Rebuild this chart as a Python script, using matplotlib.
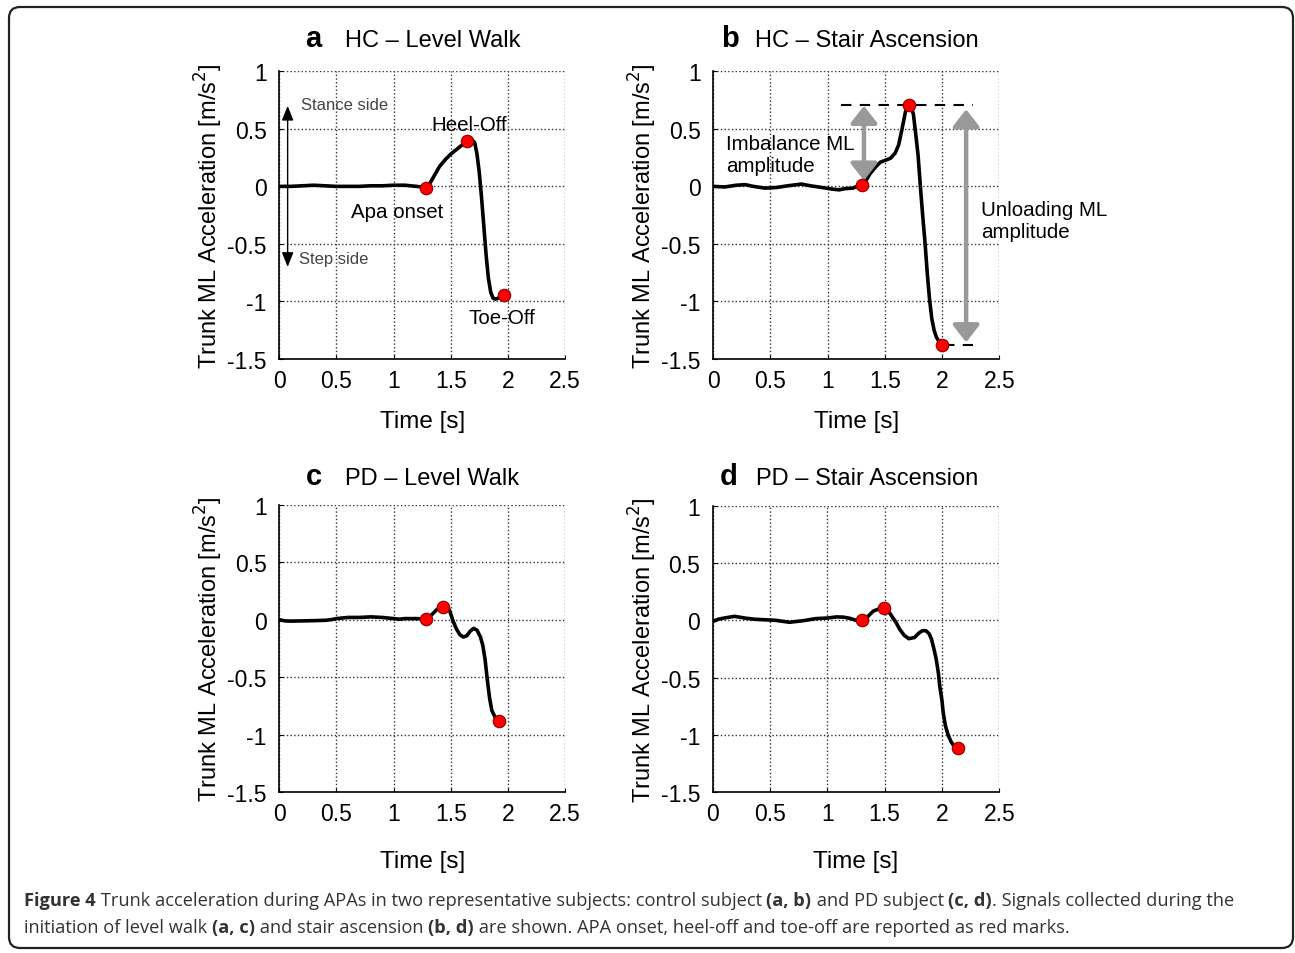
import matplotlib
matplotlib.use("Agg")
import matplotlib.pyplot as plt
from matplotlib.patches import FancyBboxPatch
from matplotlib.transforms import IdentityTransform

W, H = 1295, 954
plt.rcParams['font.family'] = ['Liberation Sans', 'DejaVu Sans']

# ---------------- data ----------------
a_t = [0.00, 0.10, 0.20, 0.30, 0.40, 0.50, 0.60, 0.70, 0.80, 0.90, 1.00, 1.10, 1.20, 1.28,
       1.32, 1.36, 1.40, 1.45, 1.50, 1.55, 1.60, 1.64, 1.68, 1.71, 1.73, 1.75, 1.77, 1.79,
       1.81, 1.83, 1.85, 1.87, 1.89, 1.92, 1.97]
a_y = [0.00, 0.00, 0.005, 0.01, 0.005, 0.00, 0.00, 0.00, 0.005, 0.005, 0.01, 0.01, 0.00, -0.01,
       0.03, 0.10, 0.17, 0.23, 0.28, 0.32, 0.36, 0.39, 0.41, 0.38, 0.28, 0.12, -0.10, -0.35,
       -0.60, -0.80, -0.92, -0.97, -0.98, -0.97, -0.94]
a_mt = [1.28, 1.64, 1.97]
a_my = [-0.01, 0.39, -0.94]

b_t = [0.00, 0.10, 0.20, 0.28, 0.35, 0.45, 0.55, 0.65, 0.77, 0.85, 0.95, 1.05, 1.10, 1.15, 1.22,
       1.30, 1.34, 1.37, 1.42, 1.46, 1.50, 1.55, 1.59, 1.62, 1.65, 1.68, 1.71, 1.73, 1.75, 1.77,
       1.79, 1.81, 1.83, 1.85, 1.87, 1.89, 1.91, 1.93, 1.95, 1.98, 2.00]
b_y = [0.00, -0.005, 0.01, 0.015, 0.00, -0.015, -0.01, 0.005, 0.02, 0.005, -0.01, -0.025, -0.03,
       -0.02, -0.015, 0.015, 0.06, 0.11, 0.17, 0.21, 0.225, 0.245, 0.29, 0.36, 0.50, 0.65, 0.71,
       0.70, 0.62, 0.45, 0.27, 0.00, -0.25, -0.48, -0.75, -0.98, -1.15, -1.25, -1.31, -1.36, -1.375]
b_mt = [1.30, 1.71, 2.00]
b_my = [0.015, 0.71, -1.375]

c_t = [0.00, 0.05, 0.10, 0.20, 0.30, 0.40, 0.45, 0.50, 0.60, 0.70, 0.80, 0.90, 1.00, 1.05, 1.10,
       1.20, 1.28, 1.33, 1.38, 1.43, 1.46, 1.49, 1.52, 1.55, 1.58, 1.61, 1.64, 1.67, 1.70, 1.73,
       1.76, 1.78, 1.80, 1.82, 1.84, 1.86, 1.89, 1.925]
c_y = [0.00, -0.01, -0.012, -0.01, -0.008, -0.005, 0.00, 0.01, 0.02, 0.02, 0.025, 0.02, 0.01,
       0.005, 0.01, 0.01, 0.005, 0.04, 0.09, 0.11, 0.12, 0.08, -0.01, -0.08, -0.13, -0.15, -0.14,
       -0.10, -0.075, -0.09, -0.15, -0.22, -0.34, -0.52, -0.68, -0.79, -0.85, -0.88]
c_mt = [1.28, 1.43, 1.925]
c_my = [0.005, 0.11, -0.88]

d_t = [0.00, 0.05, 0.10, 0.19, 0.28, 0.36, 0.45, 0.55, 0.67, 0.79, 0.90, 0.94, 1.00, 1.08, 1.14,
       1.20, 1.25, 1.305, 1.35, 1.40, 1.45, 1.49, 1.52, 1.55, 1.60, 1.63, 1.67, 1.71, 1.76, 1.80,
       1.83, 1.86, 1.89, 1.91, 1.93, 1.95, 1.97, 1.98, 2.00, 2.01, 2.03, 2.055, 2.08, 2.10, 2.14]
d_y = [-0.01, 0.01, 0.02, 0.035, 0.02, 0.01, 0.005, 0.00, -0.017, -0.003, 0.015, 0.017, 0.02,
       0.03, 0.028, 0.017, 0.00, -0.01, 0.03, 0.08, 0.10, 0.11, 0.09, 0.055, -0.02, -0.076, -0.13,
       -0.16, -0.15, -0.11, -0.09, -0.09, -0.12, -0.17, -0.25, -0.34, -0.47, -0.57, -0.70, -0.80,
       -0.92, -1.005, -1.06, -1.09, -1.115]
d_mt = [1.305, 1.49, 2.14]
d_my = [0.00, 0.11, -1.115]

xticks = [0, 0.5, 1, 1.5, 2, 2.5]
xticklabels = ['0', '0.5', '1', '1.5', '2', '2.5']
yticks = [-1.5, -1, -0.5, 0, 0.5, 1]
yticklabels = ['-1.5', '-1', '-0.5', '0', '0.5', '1']

panels = [
    ('a', 'HC – Level Walk', a_t, a_y, a_mt, a_my),
    ('b', 'HC – Stair Ascension', b_t, b_y, b_mt, b_my),
    ('c', 'PD – Level Walk', c_t, c_y, c_mt, c_my),
    ('d', 'PD – Stair Ascension', d_t, d_y, d_mt, d_my),
]

# ---------------- layout (pixels) ----------------
boxes = [(279.3, 565.0, 72.3, 360.0), (713.3, 999.3, 72.3, 360.0),
         (279.3, 565.0, 505.7, 793.3), (712.7, 999.3, 506.7, 793.3)]
letter_x = [313, 730, 313.5, 729]
title_x = [345, 755, 345, 756.5]
title_base = [47, 47, 485, 485]
ylab_x = [209, 643, 209, 643]
xlab_base = [428, 428, 868, 868]

fig = plt.figure(figsize=(W / 100, H / 100), dpi=100)

def fx(px):
    return px / W

def fy(py):
    return 1 - py / H

axes = []
for i, (letter, title, t, y, mt, my) in enumerate(panels):
    l, r, tp, bt = boxes[i]
    ax = fig.add_axes([fx(l), fy(bt), (r - l) / W, (bt - tp) / H])
    axes.append(ax)
    ax.plot(t, y, color='black', lw=2.6, zorder=3, solid_joinstyle='round')
    ax.plot(mt, my, 'o', ms=9, mfc='#ff0000', mec='#8b0000', mew=0.8, zorder=5)
    ax.set_xlim(0, 2.5)
    ax.set_ylim(-1.5, 1)
    ax.set_xticks(xticks)
    ax.set_xticklabels(xticklabels)
    ax.set_yticks(yticks)
    ax.set_yticklabels(yticklabels)
    ax.tick_params(direction='in', length=3, width=0.8, labelsize=16.5, pad=9,
                   colors='black')
    ax.tick_params(axis='x', pad=7)
    ax.grid(True, linestyle=':', color='#333333', lw=1.0)
    for s in ['top', 'right']:
        ax.spines[s].set_visible(False)
    for s in ['left', 'bottom']:
        ax.spines[s].set_linewidth(1.2)
    ax.set_axisbelow(True)
    fig.text(fx(letter_x[i]), fy(title_base[i]), letter, fontsize=21, fontweight='bold',
             ha='center', va='baseline')
    fig.text(fx(title_x[i]), fy(title_base[i]), title, fontsize=17, ha='left', va='baseline')
    fig.text(fx(ylab_x[i]), fy((tp + bt) / 2), 'Trunk ML Acceleration [m/s$^2$]', fontsize=17,
             rotation=90, ha='center', va='center')
    fig.text(fx((l + r) / 2), fy(xlab_base[i]), 'Time [s]', fontsize=17.5,
             ha='center', va='baseline')

# ---- panel a annotations ----
ax = axes[0]
ax.annotate('', xy=(0.073, 0.70), xytext=(0.073, -0.70),
            arrowprops=dict(arrowstyle='<|-|>,head_length=0.55,head_width=0.22',
                            color='black', lw=1.0, mutation_scale=16,
                            shrinkA=0, shrinkB=0), zorder=4)
ax.text(0.19, 0.71, 'Stance side', fontsize=12, color='#444444', ha='left', va='center')
ax.text(0.17, -0.63, 'Step side', fontsize=12, color='#444444', ha='left', va='center')
ax.text(1.66, 0.54, 'Heel-Off', fontsize=14.8, ha='center', va='center', zorder=6)
ax.text(1.03, -0.22, 'Apa onset', fontsize=14.8, ha='center', va='center', zorder=6)
ax.text(1.95, -1.14, 'Toe-Off', fontsize=14.8, ha='center', va='center', zorder=6)

# ---- panel b annotations ----
ax = axes[1]
ax.plot([1.12, 2.27], [0.71, 0.71], color='black', lw=1.5, ls=(0, (5, 4)), zorder=2)
ax.plot([2.02, 2.27], [-1.375, -1.375], color='black', lw=1.5, ls=(0, (5, 4)), zorder=2)
gray_arrow = dict(arrowstyle='<|-|>,head_length=0.45,head_width=0.35', color='#999999',
                  lw=3.2, mutation_scale=23, shrinkA=0, shrinkB=0)
ax.annotate('', xy=(1.317, 0.70), xytext=(1.317, 0.05), arrowprops=gray_arrow, zorder=4)
ax.annotate('', xy=(2.21, 0.67), xytext=(2.21, -1.355), arrowprops=gray_arrow, zorder=4)
ax.text(0.115, 0.28, 'Imbalance ML\namplitude', fontsize=14.8, ha='left', va='center',
        linespacing=1.2, zorder=6)
ax.text(2.34, -0.30, 'Unloading ML\namplitude', fontsize=14.8, ha='left', va='center',
        linespacing=1.2, clip_on=False, zorder=6)

# ---- border ----
border = FancyBboxPatch((9, 5), 1284, 941, boxstyle='round,pad=0,rounding_size=11',
                        transform=IdentityTransform(), fill=False, ec='#222222', lw=1.6)
fig.patches.append(border)

# ---- caption ----
cap_family = ['Open Sans', 'DejaVu Sans']
cap_size = 13.15
cap_color = '#333333'
line1 = [("Figure 4", 'bold'),
         (" Trunk acceleration during APAs in two representative subjects: control subject ", 'normal'),
         ("(a, b)", 'bold'), (" and PD subject ", 'normal'), ("(c, d)", 'bold'),
         (". Signals collected during the", 'normal')]
line2 = [("initiation of level walk ", 'normal'), ("(a, c)", 'bold'),
         (" and stair ascension ", 'normal'), ("(b, d)", 'bold'),
         (" are shown. APA onset, heel-off and toe-off are reported as red marks.", 'normal')]

fig.canvas.draw()
renderer = fig.canvas.get_renderer()

def measure(s, weight):
    t = fig.text(0, 0, "|" + s + "|", fontsize=cap_size, fontweight=weight, family=cap_family)
    w1 = t.get_window_extent(renderer).width
    t.set_text("||")
    w2 = t.get_window_extent(renderer).width
    t.remove()
    return w1 - w2

for pieces, base in [(line1, 906), (line2, 933)]:
    x = 24
    for s, wgt in pieces:
        fig.text(fx(x), fy(base), s, fontsize=cap_size, fontweight=wgt, family=cap_family,
                 color=cap_color, ha='left', va='baseline')
        x += measure(s, wgt)

fig.savefig('out.png', dpi=100)
